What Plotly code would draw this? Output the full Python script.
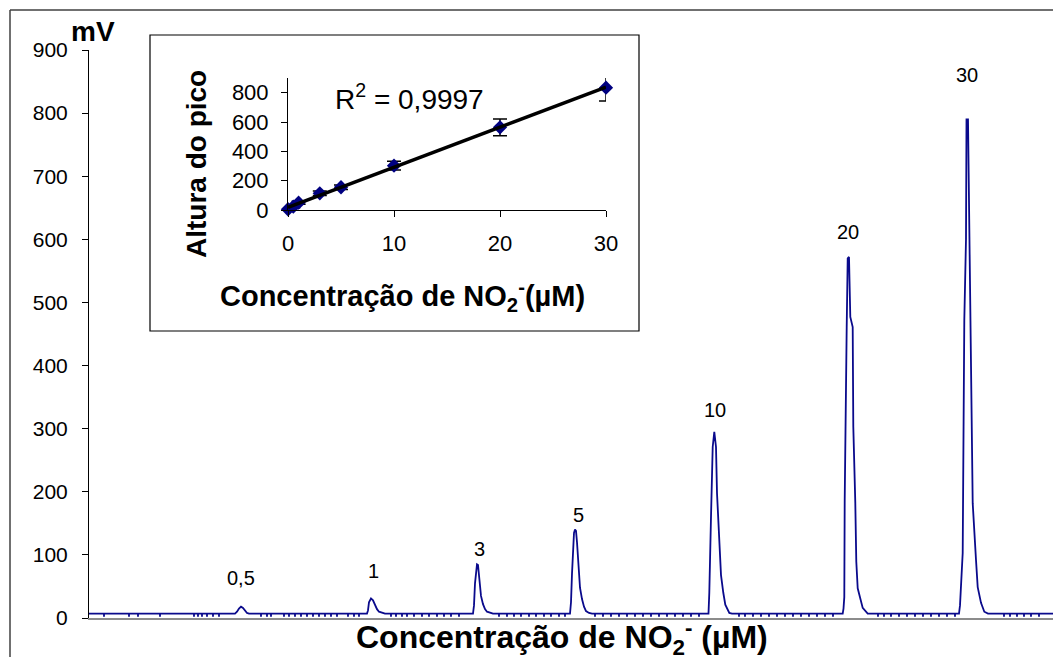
import numpy as np
import plotly.graph_objects as go

# ---------------- data ----------------
# main detector signal (time in arbitrary s, signal in mV): baseline + peaks
signal_t = [0,
            146, 148, 150, 152, 154, 156, 158, 160,
            278, 279, 280, 282, 284, 286, 288, 290, 293, 296,
            384, 385, 386, 387, 388, 389, 390, 391, 392, 394, 396, 398, 401, 404,
            481, 482, 483, 484, 485, 486, 487, 488, 489, 490, 491, 493, 495, 497, 500, 503,
            619.5, 620.3, 622, 623.7, 625.3, 627, 628, 630.3, 632, 634.3, 636.3, 640.3, 643,
            753.7, 754.5, 755.3, 755.7, 757.7, 758.7, 760, 761.3, 763.7, 764.3,
            766.3, 767.3, 768.7, 771.3, 773.7, 778.7,
            870, 871, 873.7, 875.3, 877, 877.5, 879, 880.5, 882, 883.7, 887, 888.7, 892, 895.3, 899,
            965]
signal_mv = [7,
             7, 10, 15, 18, 16, 11, 8, 7,
             7, 12, 25, 31, 28, 20, 14, 10, 8, 7,
             7, 20, 55, 78, 85, 84, 70, 50, 35, 22, 14, 10, 8, 7,
             7, 25, 70, 115, 135, 140, 138, 120, 95, 70, 48, 30, 18, 11, 8, 7,
             7, 40, 160, 271, 295, 271, 198, 119, 68, 40, 21, 8, 7,
             7, 15, 33, 187, 461, 570, 572, 477, 461, 303,
             182, 89, 47, 28, 16, 7,
             7, 20, 103, 472, 600, 790, 790, 600, 341, 182, 92, 49, 24, 10, 7,
             7]
baseline_mv = 7
# short downward noise spikes on the baseline
dip_t = [15, 40, 49, 71, 105, 109, 113, 118, 124, 130, 172, 178, 182,
         195, 200, 206, 212, 218, 224, 230, 236, 242, 248, 259, 265, 270,
         302, 307, 313, 318, 325, 333, 340, 348, 355, 362, 370,
         410, 418, 425, 432, 440, 447, 455, 462, 470, 476,
         506, 514, 522, 530, 538, 546, 554, 562, 570, 578, 586, 594, 602, 610,
         650, 656, 664, 672, 680, 688, 696, 704, 712, 720, 728, 736, 744,
         789, 795, 802, 810, 818, 826, 834, 842, 850, 858, 866,
         915, 921, 928, 935, 942, 950]
dip_mv = 2

peak_labels = ["0,5", "1", "3", "5", "10", "20", "30"]
peak_times = [152, 284, 390, 489, 626, 759, 878]
label_mv = [63, 74, 109, 163, 330, 612, 860]

# calibration (inset)
conc = [0, 0.5, 1, 3, 5, 10, 20, 30]
height = [5, 23, 50, 114, 155, 302, 564, 834]
height_err = [5, 8, 10, 15, 15, 30, 57, 91]
r2_text = "R<sup>2</sup> = 0,9997"

FONT = "Liberation Sans, Arial, sans-serif"

# merge baseline spikes into the signal
pts = list(zip(signal_t, signal_mv))
for d in dip_t:
    pts += [(d - 0.01, baseline_mv), (d, dip_mv), (d + 0.01, baseline_mv)]
pts.sort(key=lambda p: p[0])
sig_x = [p[0] for p in pts]
sig_y = [p[1] for p in pts]

fig = go.Figure()

fig.add_trace(go.Scatter(x=sig_x, y=sig_y, mode="lines",
                         line=dict(color="#0a0a8c", width=1.8),
                         xaxis="x", yaxis="y", showlegend=False, hoverinfo="skip"))

fig.add_trace(go.Scatter(x=conc, y=height, mode="markers", cliponaxis=False,
                         marker=dict(symbol="diamond", size=11, color="#000080"),
                         error_y=dict(type="data", array=height_err, color="black",
                                      thickness=1.5, width=7),
                         xaxis="x2", yaxis="y2", showlegend=False, hoverinfo="skip"))

coef = np.polyfit(conc, height, 1)
xt = np.array([min(conc), max(conc)])
fig.add_trace(go.Scatter(x=xt, y=np.polyval(coef, xt), mode="lines", cliponaxis=False,
                         line=dict(color="black", width=3.5),
                         xaxis="x2", yaxis="y2", showlegend=False, hoverinfo="skip"))

# target image geometry (pixels of the final picture)
IW, IH = 1053, 657
IL, IT, IB = 88, 50, 39
ipw, iph = IW - IL, IH - IT - IB
# horizontal compensation for the capture
FX = 1053 / 1066
W, H = 1066, 657
L, T, B = round(IL / FX), IT, IB

def px(x):
    return (x - IL) / ipw

def py(y):
    return (IH - IB - y) / iph

shapes = [
    dict(type="line", xref="paper", yref="paper", x0=px(9), x1=px(1053), y0=py(10), y1=py(10),
         line=dict(color="#404040", width=1.5)),
    dict(type="line", xref="paper", yref="paper", x0=px(9), x1=px(9), y0=py(10), y1=py(660),
         line=dict(color="#404040", width=1.5)),
    dict(type="rect", xref="paper", yref="paper", x0=px(149), x1=px(638), y0=py(331), y1=py(35),
         line=dict(color="black", width=1.2), fillcolor="white", layer="below"),
]

annotations = []
for lab, t, yv in zip(peak_labels, peak_times, label_mv):
    annotations.append(dict(x=t, y=yv, xref="x", yref="y", text=lab, showarrow=False,
                            font=dict(family=FONT, size=20, color="black"),
                            xanchor="center", yanchor="middle"))

annotations += [
    dict(x=px(561), y=py(637), xref="paper", yref="paper",
         text="<b>Concentração de NO<sub>2</sub><sup>-</sup> (µM)</b>", showarrow=False,
         font=dict(family=FONT, size=32, color="black"), xanchor="center", yanchor="middle"),
    dict(x=px(92), y=py(32), xref="paper", yref="paper", text="<b>mV</b>", showarrow=False,
         font=dict(family=FONT, size=28, color="black"), xanchor="center", yanchor="middle"),
    dict(x=px(196), y=py(164), xref="paper", yref="paper", text="<b>Altura do pico</b>",
         showarrow=False, textangle=-90,
         font=dict(family=FONT, size=28, color="black"), xanchor="center", yanchor="middle"),
    dict(x=px(401), y=py(296), xref="paper", yref="paper",
         text="<b>Concentração de NO<sub>2</sub><sup>-</sup>(µM)</b>", showarrow=False,
         font=dict(family=FONT, size=29, color="black"), xanchor="center", yanchor="middle"),
    dict(x=px(408), y=py(97), xref="paper", yref="paper", text=r2_text, showarrow=False,
         font=dict(family=FONT, size=28, color="black"), xanchor="center", yanchor="middle"),
]

fig.update_layout(
    width=W, height=H, autosize=False,
    margin=dict(l=L, r=0, t=T, b=B),
    paper_bgcolor="white", plot_bgcolor="white",
    font=dict(family=FONT, color="black"),
    xaxis=dict(range=[0, 965], showgrid=False, zeroline=False, showticklabels=False,
               ticks="", showline=True, linecolor="#8c8c8c", linewidth=2, domain=[0, 1]),
    yaxis=dict(range=[0, 900], dtick=100, showgrid=False, zeroline=False,
               ticks="outside", ticklen=6, tickcolor="black", tickwidth=1,
               showline=True, linecolor="black", linewidth=1,
               tickfont=dict(family=FONT, size=21, color="black"), ticklabelstandoff=10),
    xaxis2=dict(domain=[px(287), px(605)], range=[0, 30], anchor="y2",
                tickvals=[0, 10, 20, 30], showgrid=False, zeroline=False,
                ticks="outside", ticklen=6, tickcolor="black",
                showline=True, linecolor="black", linewidth=1,
                tickfont=dict(family=FONT, size=22, color="black"), ticklabelstandoff=8),
    yaxis2=dict(domain=[py(210), py(78)], range=[0, 900], anchor="x2",
                tickvals=[0, 200, 400, 600, 800], showgrid=False, zeroline=False,
                ticks="outside", ticklen=6, tickcolor="black",
                showline=True, linecolor="black", linewidth=1,
                tickfont=dict(family=FONT, size=22, color="black"), ticklabelstandoff=8),
    shapes=shapes,
    annotations=annotations,
)

fig.write_html("out.html", config={"responsive": False, "displayModeBar": False},
               post_script="document.documentElement.style.overflow='hidden';"
                           "document.body.style.overflow='hidden';document.body.style.margin='0';")
